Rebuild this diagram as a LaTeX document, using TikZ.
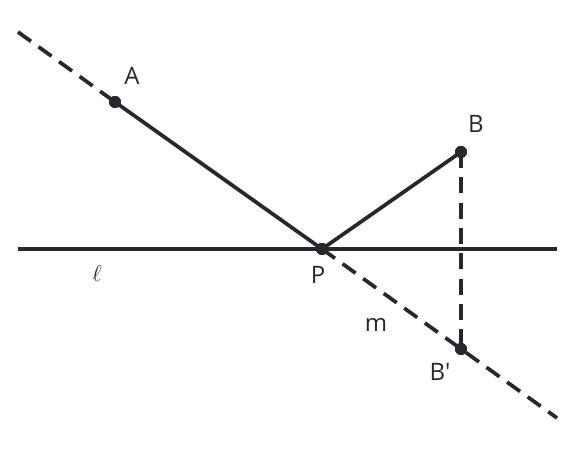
\documentclass[tikz,border=0pt]{standalone}
\usepackage{fontspec}
\setmainfont{Open Sans}[Ligatures=TeXOff]
\definecolor{ink}{RGB}{40,40,44}
\begin{document}
\begin{tikzpicture}[x=0.75pt,y=-0.75pt,
  seg/.style={draw=ink,line width=2.8pt},
  dashseg/.style={draw=ink,line width=2.8pt,dash pattern=on 12pt off 7pt},
  dot/.style={circle,fill=ink,inner sep=0pt,minimum size=9pt},
  lab/.style={text=ink,font=\fontsize{18}{21}\selectfont,inner sep=0pt}]
\useasboundingbox (0,0) rectangle (576,452);
\coordinate (mstart) at (18,32);
\coordinate (mend) at (557,418);
\coordinate (lstart) at (18,249);
\coordinate (lend) at (557,249);
\node[dot] (A) at (115,102) {};
\node[dot] (P) at (322,249) {};
\node[dot] (B) at (461,152) {};
\node[dot] (Bp) at (461,349) {};
\draw[seg] (lstart) -- (lend);
\draw[dashseg] (mstart) -- (A.center);
\draw[dashseg] (P.center) -- (mend);
\draw[dashseg] (B.center) -- (Bp.center);
\draw[seg] (A.center) -- (P.center) -- (B.center);
\node[dot] at (A) {};
\node[dot] at (P) {};
\node[dot] at (B) {};
\node[dot] at (Bp) {};
\node[lab] (la) at (132,76) {A};
\node[lab] (lb) at (476,124) {B};
\node[lab] (lp) at (318,275) {P};
\node[lab] (lbp) at (440,372) {B'};
\node[lab] (lm) at (376,325) {m};
\node[lab] (ll) at (97,274) {$\ell$};
\end{tikzpicture}
\end{document}
